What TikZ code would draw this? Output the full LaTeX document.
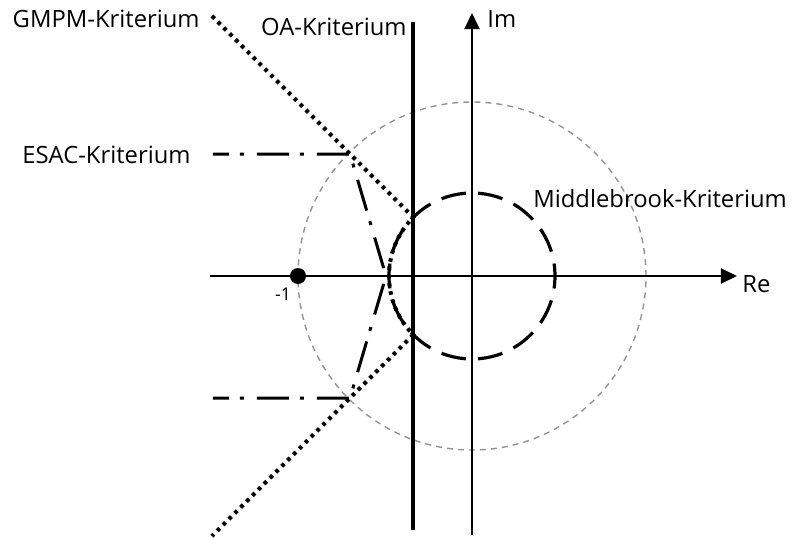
\documentclass[tikz,border=0pt]{standalone}
\usepackage{fontspec}
\setmainfont{Open Sans}
\usetikzlibrary{arrows.meta}
\newcommand\lblfont{\fontsize{11.9}{14}\selectfont}
\newcommand\smallfont{\fontsize{8.8}{10}\selectfont}
\tikzset{
  axisline/.style={line width=1pt,-{Triangle[length=8pt,width=7.5pt]}},
  unitcircle/.style={draw=gray!85,line width=0.7pt,dash pattern=on 3pt off 2.52pt},
  oaline/.style={line width=1.75pt},
  mbcircle/.style={line width=1.6pt,dash pattern=on 12.5pt off 6.125pt,dash phase=6.25pt},
  gmpmline/.style={line width=2pt,line cap=butt,dash pattern=on 1.8pt off 2.35pt},
  esacline/.style={line width=1.5pt,dash pattern=on 16pt off 5.5pt on 2pt off 6.5pt,dash phase=8pt},
  lbl/.style={inner sep=0pt,font=\lblfont},
}
\begin{document}
\begin{tikzpicture}[x=0.5pt,y=0.5pt]
\useasboundingbox (-472,-261) rectangle (322,276);
% coordinates
\coordinate (O) at (0,0);
\coordinate (reS) at (-262,0);
\coordinate (reE) at (265,0);
\coordinate (imS) at (0,-259);
\coordinate (imE) at (0,263);
\coordinate (oaT) at (-59,254);
\coordinate (oaB) at (-59,-254);
\coordinate (g1) at (-260,260);
\coordinate (t1) at (135:41.5pt);
\coordinate (g2) at (-260,-260);
\coordinate (e1) at (-259,122);
\coordinate (c1) at (-122,122);
\coordinate (tip) at (-86,0);
\coordinate (e2) at (-259,-122);
\coordinate (c2) at (-122,-122);
\coordinate (m1) at (-174,0);
% unit circle
\draw[unitcircle] (O) circle[radius=87pt];
% axes
\draw[axisline] (reS) -- (reE);
\draw[axisline] (imS) -- (imE);
% OA criterion
\draw[oaline] (oaB) -- (oaT);
% Middlebrook circle
\draw[mbcircle] (O) circle[radius=41.5pt];
% GMPM
\draw[gmpmline] (g1) -- (t1) arc[start angle=135,end angle=225,radius=41.5pt] -- (g2);
% ESAC
\draw[esacline] (e1) -- (c1) -- (tip);
\draw[esacline] (e2) -- (c2) -- (tip);
% -1 point
\fill (m1) circle[radius=4pt];
% labels
\node[lbl,anchor=base east] (lgmpm) at (-272,249) {GMPM-Kriterium};
\node[lbl,anchor=base east] (loa) at (-65,241) {OA-Kriterium};
\node[lbl,anchor=base west] (lim) at (15,249) {Im};
\node[lbl,anchor=base west] (lesac) at (-450,113) {ESAC-Kriterium};
\node[lbl,anchor=base west] (lmb) at (61,69) {Middlebrook-Kriterium};
\node[lbl,anchor=base west] (lre) at (270,-16) {Re};
\node[inner sep=0pt,font=\smallfont,anchor=base] (lm1) at (-189,-24) {-1};
\end{tikzpicture}
\end{document}
